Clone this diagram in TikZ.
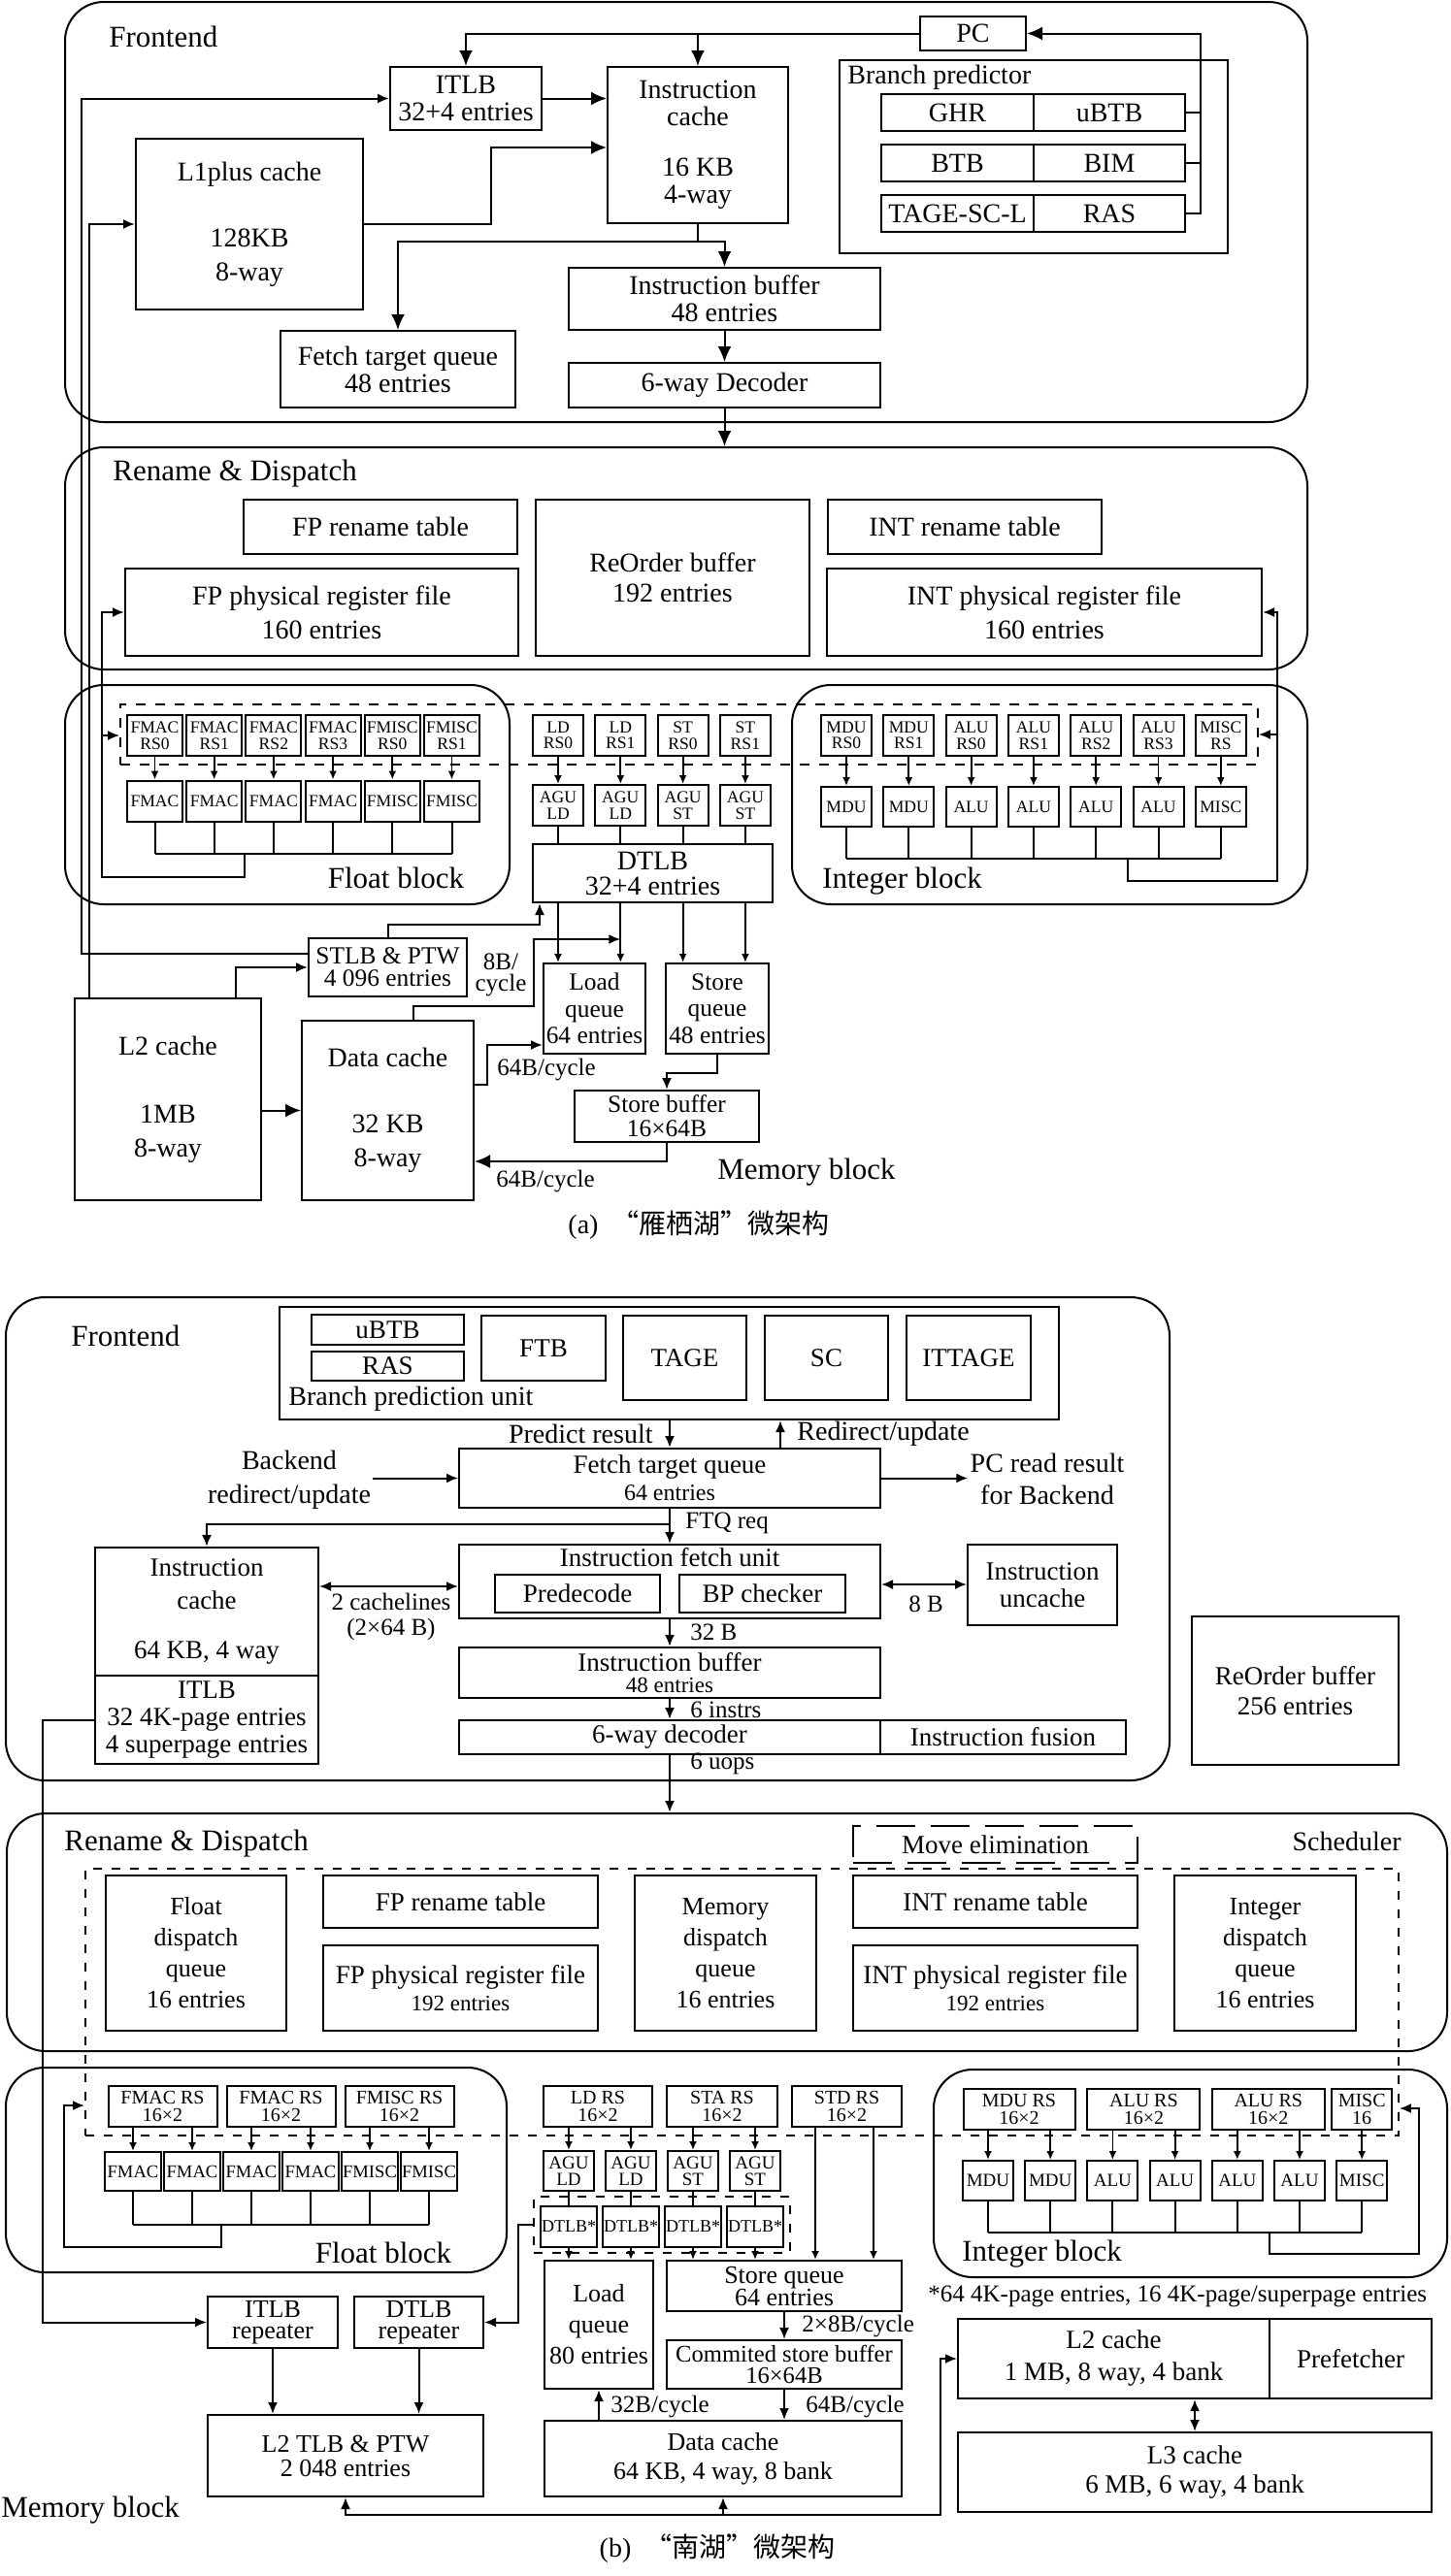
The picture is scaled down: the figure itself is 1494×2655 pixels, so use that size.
\documentclass[tikz,border=0pt]{standalone}
\usepackage{fontspec}
\setmainfont{Liberation Serif}
\newfontfamily\cjk{Noto Sans CJK SC}
\usetikzlibrary{arrows.meta}

% box given by its corners (x1,y1) (x2,y2)
\newcommand{\blk}[6][]{\node[blk,minimum width={(#4-#2)*0.5pt},minimum height={(#5-#3)*0.5pt},#1] (#6) at ({(#2+#4)/2},{(#3+#5)/2})}

\tikzset{
  blk/.style={draw, line width=1pt, inner sep=1pt, align=center},
  grp/.style={rounded corners=20pt},
  dsh/.style={dash pattern=on 5pt off 5pt, line width=0.9pt},
  ttl/.style={font=\fontsize{15.5}{16}\selectfont, inner sep=0pt},
  lbl/.style={font=\fontsize{12.5}{11}\selectfont, inner sep=0pt, align=center},
  lblb/.style={font=\fontsize{14}{14}\selectfont, inner sep=1pt, align=center},
  arrA/.style={line width=1pt, -{Latex[length=8pt,width=7pt]}},
  arrB/.style={line width=1pt, -{Latex[length=6pt,width=5pt]}},
  dblB/.style={line width=1pt, {Latex[length=6pt,width=5pt]}-{Latex[length=6pt,width=5pt]}},
  arrs/.style={line width=0.9pt, -{Latex[length=4.5pt,width=4pt]}},
  lns/.style={line width=1pt},
  unitA/.style={blk, inner sep=0.5pt, minimum width=26pt, minimum height=21pt, font=\fontsize{8.8}{8.3}\selectfont},
  unitB/.style={blk, inner sep=0.5pt, minimum width=26pt, minimum height=20.5pt, font=\fontsize{9.5}{8.5}\selectfont},
}

\begin{document}
\begin{tikzpicture}[x=0.5pt,y=-0.5pt]
\useasboundingbox (0,0) rectangle (1494,2655);
\fill[white] (0,0) rectangle (1494,2655);

%%%%%%%%%%%%%%%% (a) %%%%%%%%%%%%%%%%
\begin{scope}[font=\fontsize{14}{14}\selectfont]
% Frontend
\blk[grp]{67}{2}{1347}{435}{frontA} {};
\node[ttl,anchor=west] at (112,38) {Frontend};
\blk{948}{17}{1057}{52}{pcA} {PC};
\blk{402}{69}{558}{134}{itlbA} {ITLB\\32+4 entries};
\blk{626}{69}{812}{230}{icacheA} {Instruction\\cache\\[12pt]16 KB\\4-way};
\blk{140}{143}{374}{319}{l1plusA} {L1plus cache\\[20pt]128KB\\[3.5pt]8-way};
\blk[line width=0.8pt]{865}{62}{1265}{261}{bpA} {};
\node[anchor=west,inner sep=0pt] at (873,80) {Branch predictor};
\blk{908}{97}{1065}{135}{ghrA} {GHR};
\blk{1065}{97}{1221}{135}{ubtbA} {uBTB};
\blk{908}{149}{1065}{187}{btbA} {BTB};
\blk{1065}{149}{1221}{187}{bimA} {BIM};
\blk{908}{201}{1065}{239}{tageA} {TAGE-SC-L};
\blk{1065}{201}{1221}{239}{rasA} {RAS};
\blk{289}{341}{531}{420}{ftqA} {Fetch target queue\\48 entries};
\blk{586}{276}{907}{340}{ibufA} {Instruction buffer\\48 entries};
\blk{586}{374}{907}{420}{decA} {6-way Decoder};

% Rename & Dispatch
\blk[grp]{67}{461}{1347}{690}{renameA} {};
\node[ttl,anchor=west] at (116,488) {Rename \& Dispatch};
\blk{251}{515}{533}{571}{fprtA} {FP rename table};
\blk{129}{586}{534}{676}{fprfA} {FP physical register file\\[3.5pt]160 entries};
\blk{552}{515}{834}{676}{robA} {ReOrder buffer\\[1.5pt]192 entries};
\blk{853}{515}{1135}{571}{intrtA} {INT rename table};
\blk{852}{586}{1300}{676}{intrfA} {INT physical register file\\[3.5pt]160 entries};

% blocks
\blk[grp]{67}{706}{525}{932}{floatA} {};
\node[ttl] at (408,905) {Float block};
\blk[grp]{816}{706}{1347}{932}{intA} {};
\node[ttl,anchor=west] at (847,908) {Integer block};
\blk[dsh]{124}{726}{1296}{788}{rsrowA} {};
\blk{549}{870}{796}{930}{dtlbA} {DTLB\\[-1pt]32+4 entries};

\foreach \i/\a/\b/\u in {0/FMAC/RS0/FMAC,1/FMAC/RS1/FMAC,2/FMAC/RS2/FMAC,3/FMAC/RS3/FMAC,4/FMISC/RS0/FMISC,5/FMISC/RS1/FMISC}{
  \node[unitA, minimum width=28.5pt] (frsA\i) at ({159.5+61.2*\i},758) {\a\\\b};
  \node[unitA, minimum width=28.5pt] (ffuA\i) at ({159.5+61.2*\i},825.5) {\u};
  \draw[arrs] (frsA\i) -- (ffuA\i);
  \draw[lns] (ffuA\i) -- (ffuA\i |- 0,880);
}
\draw[lns] (ffuA0 |- 0,880) -- (ffuA5 |- 0,880);
\draw[arrB] (252,880) |- (105,904) |- (fprfA.west);
\draw[arrB] (105,758) -- (rsrowA.west |- 0,758);

\foreach \i/\a/\b in {0/LD/RS0,1/LD/RS1,2/ST/RS0,3/ST/RS1}{
  \node[unitA] (mrsA\i) at ({575+64.3*\i},758) {\a\\\b};
  \node[unitA] (aguA\i) at ({575+64.3*\i},830) {AGU\\\a};
  \draw[arrs] (mrsA\i) -- (aguA\i);
  \draw[lns] (aguA\i) -- (aguA\i |- dtlbA.north);
}

\foreach \i/\a/\b/\u in {0/MDU/RS0/MDU,1/MDU/RS1/MDU,2/ALU/RS0/ALU,3/ALU/RS1/ALU,4/ALU/RS2/ALU,5/ALU/RS3/ALU,6/MISC/RS/MISC}{
  \node[unitA] (irsA\i) at ({872+64.3*\i},758) {\a\\\b};
  \node[unitA, minimum height=20.5pt] (ifuA\i) at ({872+64.3*\i},831.5) {\u};
  \draw[arrs] (irsA\i) -- (ifuA\i);
  \draw[lns] (ifuA\i) -- (ifuA\i |- 0,885);
}
\draw[lns] (ifuA0 |- 0,885) -- (ifuA6 |- 0,885);
\draw[arrB] (1162,885) |- (1316,908) |- (intrfA.east);
\draw[arrB] (1316,757) -- (rsrowA.east |- 0,757);

% Memory
\blk[font=\fontsize{12.7}{13.7}\selectfont]{318}{967}{481}{1027}{stlbA} {STLB \& PTW\\[-2.2pt]4 096 entries};
\blk{77}{1029}{269}{1237}{l2A} {L2 cache\\[21pt]1MB\\[3.5pt]8-way};
\blk{311}{1052}{488}{1237}{dcacheA} {Data cache\\[20pt]32 KB\\[3.5pt]8-way};
\blk[font=\fontsize{12.7}{13.7}\selectfont]{560}{993}{665}{1086}{lqA} {Load\\queue\\64 entries};
\blk[font=\fontsize{12.7}{13.7}\selectfont]{686}{993}{792}{1086}{sqA} {Store\\queue\\48 entries};
\blk[font=\fontsize{12.7}{13.7}\selectfont]{592}{1124}{782}{1177}{sbA} {Store buffer\\[-1.2pt]16×64B};
\node[ttl] at (831,1208) {Memory block};

% connections
\draw[arrA] (pcA.west) -| (itlbA.north);
\draw[arrA] (pcA.west -| icacheA.north) -- (icacheA.north);
\draw[arrA] (rasA.east) -- ++(15,0) |- (pcA.east);
\draw[line width=1pt] (ubtbA.east) -- ++(15,0);
\draw[line width=1pt] (bimA.east) -- ++(15,0);
\draw[arrA] (itlbA.east) -- (itlbA.east -| icacheA.west);
\draw[arrB] (stlbA.west |- 0,983) -- (84,983) |- (itlbA.west);
\draw[arrB] (l2A.north -| 92,0) |- (l1plusA.west);
\draw[arrA] (l1plusA.east) -| (506,152) -- (icacheA.west |- 0,152);
\draw[arrA] (icacheA.south) -- ++(0,18) -| (ftqA.north);
\draw[arrA] (icacheA.south) -- ++(0,18) -| (ibufA.north);
\draw[arrA] (ibufA) -- (decA);
\draw[arrA] (decA) -- (decA |- renameA.north);

\draw[arrB] (stlbA.north) |- (556,953) -- (dtlbA.south -| 556,0);
\draw[arrB] (dcacheA.north -| 426,0) |- (550,1037) |- (aguA1 |- 0,968);
\node[lbl] at (516,1005) {8B/\\cycle};
\foreach \i/\q in {0/lqA,1/lqA,2/sqA,3/sqA}
  \draw[arrs] (aguA\i |- dtlbA.south) -- (aguA\i |- \q.north);
\draw[arrB] (l2A.north -| 243,0) |- (stlbA.west);
\draw[arrA] (l2A.east |- dcacheA.west) -- (dcacheA.west);
\draw[arrB] (dcacheA.east |- 0,1118) -| (502,1077) -- (lqA.west |- 0,1077);
\node[lbl,anchor=west] at (512,1103) {64B/cycle};
\draw[arrB] (sqA.south) -- ++(0,19) -| (sbA.north);
\draw[arrA] (sbA.south) |- (dcacheA.east |- 0,1197);
\node[lbl,anchor=west] at (511,1218) {64B/cycle};

\node (capA) at (720,1263) {(a)\enspace{\cjk “雁栖湖”微架构}};
\end{scope}

%%%%%%%%%%%%%%%% (b) %%%%%%%%%%%%%%%%
\begin{scope}[font=\fontsize{13.5}{14}\selectfont]
% Frontend
\blk[grp]{6}{1337}{1205}{1835}{frontB} {};
\node[ttl,anchor=west] at (73,1377) {Frontend};
\blk{288}{1347}{1091}{1463}{bpuB} {};
\node[lblb,anchor=west,inner sep=0pt] at (297,1442) {Branch prediction unit};
\blk{321}{1355}{478}{1386}{ubtbB} {uBTB};
\blk{321}{1393}{478}{1423}{rasB} {RAS};
\blk{496}{1356}{624}{1423}{ftbB} {FTB};
\blk{642}{1356}{769}{1443}{tageB} {TAGE};
\blk{788}{1356}{915}{1443}{scB} {SC};
\blk{934}{1356}{1062}{1443}{ittageB} {ITTAGE};
\blk{473}{1493}{907}{1554}{ftqB} {Fetch target queue\\{\fontsize{12}{12}\selectfont 64 entries}};
\blk{98}{1595}{328}{1727}{icacheB} {Instruction\\[3pt]cache\\[11.5pt]64 KB, 4 way};
\blk{98}{1727}{328}{1818}{itlbB} {ITLB\\32 4K-page entries\\4 superpage entries};
\blk[label={[anchor=north,inner sep=2pt]north:Instruction fetch unit}]{473}{1592}{907}{1668}{ifuB} {};
\blk{510}{1623}{680}{1662}{predecB} {Predecode};
\blk{700}{1623}{871}{1662}{bpchkB} {BP checker};
\blk{997}{1592}{1151}{1675}{uncacheB} {Instruction\\uncache};
\blk{473}{1698}{907}{1750}{ibufB} {Instruction buffer\\[-3pt]{\fontsize{11.5}{11.5}\selectfont 48 entries}};
\blk{473}{1773}{907}{1808}{decB} {6-way decoder};
\blk{907}{1773}{1160}{1808}{fusionB} {Instruction fusion};
\blk{1228}{1666}{1441}{1819}{robB} {ReOrder buffer\\[1.5pt]256 entries};

\draw[arrB] (ftqB.north |- bpuB.south) -- (ftqB.north);
\node[lblb,anchor=east] at (675,1478) {Predict result};
\draw[arrB] (ftqB.north -| 804,0) -- (bpuB.south -| 804,0);
\node[lblb,anchor=west] at (819,1478) {Redirect/update};
\node[lblb] (bkB) at (298,1525) {Backend\\[3.5pt]redirect/update};
\draw[arrB] (bkB.east |- ftqB.west) -- (ftqB.west);
\node[lblb] (pcrB) at (1079,1524) {PC read result\\[2.5pt]for Backend};
\draw[arrB] (ftqB.east) -- (pcrB.west |- ftqB.east);
\draw[arrB] (ftqB) -- (ifuB);
\draw[arrB] (ftqB.south) -- ++(0,16) -| (icacheB.north);
\node[lbl,anchor=west] at (706,1570) {FTQ req};
\draw[dblB] (icacheB.east |- 0,1635) -- (ifuB.west |- 0,1635);
\node[lbl] at (403,1666) {2 cachelines\\[2pt](2×64 B)};
\draw[dblB] (ifuB.east |- 0,1633) -- (uncacheB.west |- 0,1633);
\node[lbl] at (954,1653) {8 B};
\draw[arrB] (ifuB) -- (ibufB);
\node[lbl,anchor=west] at (711,1682) {32 B};
\draw[arrB] (ibufB) -- (decB);
\node[lbl,anchor=west] at (711,1762) {6 instrs};

% Rename & Dispatch
\blk[grp]{7}{1869}{1491}{2114}{renameB} {};
\node[ttl,anchor=west] at (66,1900) {Rename \& Dispatch};
\node[lblb,anchor=east] at (1446,1898) {Scheduler};
\draw[arrB] (decB) -- (decB |- renameB.north);
\node[lbl,anchor=west] at (711,1818) {6 uops};
\blk[dash pattern=on 20pt off 8pt]{879}{1882}{1172}{1920}{moveB} {Move elimination};
\blk[dsh, dash pattern=on 4.5pt off 5pt]{88}{1926}{1441}{2201}{schedB} {};
\blk[font=\fontsize{13}{16}\selectfont]{109}{1933}{295}{2093}{fdqB} {Float\\dispatch\\queue\\16 entries};
\blk{333}{1933}{616}{1987}{fprtB} {FP rename table};
\blk{333}{2005}{616}{2093}{fprfB} {FP physical register file\\{\fontsize{11.5}{11.5}\selectfont 192 entries}};
\blk[font=\fontsize{13}{16}\selectfont]{654}{1933}{841}{2093}{mdqB} {Memory\\dispatch\\queue\\16 entries};
\blk{879}{1933}{1172}{1987}{intrtB} {INT rename table};
\blk{879}{2005}{1172}{2093}{intrfB} {INT physical register file\\{\fontsize{11.5}{11.5}\selectfont 192 entries}};
\blk[font=\fontsize{13}{16}\selectfont]{1210}{1933}{1397}{2093}{idqB} {Integer\\dispatch\\queue\\16 entries};

% Float block
\blk[grp]{6}{2131}{522}{2342}{floatB} {};
\node[ttl] at (395,2322) {Float block};
\foreach \k/\a in {0/FMAC RS,1/FMAC RS,2/FMISC RS}
  \node[unitB, minimum width=56pt, minimum height=21pt, font=\fontsize{10}{9}\selectfont] (frsB\k) at ({167.5+122*\k},2171) {\a\\16×2};
\foreach \j/\u in {0/FMAC,1/FMAC,2/FMAC,3/FMAC,4/FMISC,5/FMISC}{
  \pgfmathtruncatemacro\k{\j/2}
  \node[unitB, minimum width=29pt, minimum height=20pt, font=\fontsize{9.3}{9}\selectfont] (ffuB\j) at ({137+61*\j},2238) {\u};
  \draw[arrs] (frsB\k.south -| ffuB\j) -- (ffuB\j);
  \draw[lns] (ffuB\j) -- (ffuB\j |- 0,2293);
}
\draw[lns] (ffuB0 |- 0,2293) -- (ffuB5 |- 0,2293);
\draw[arrB] (228,2293) |- (66,2316) |- (schedB.west |- 0,2170);

% Integer block
\blk[grp]{962}{2133}{1491}{2347}{intB} {};
\node[ttl,anchor=west] at (991,2323) {Integer block};
\foreach \k/\xx/\w/\a/\b in {0/1050/115/MDU RS/16×2,1/1178.4/116/ALU RS/16×2,2/1306.8/116/ALU RS/16×2,3/1403.2/62/MISC/16}
  \node[unitB, minimum width=\w*0.5pt, minimum height=21pt, font=\fontsize{10}{9}\selectfont] (irsB\k) at (\xx,2174) {\a\\\b};
\foreach \j/\u in {0/MDU,1/MDU,2/ALU,3/ALU,4/ALU,5/ALU,6/MISC}{
  \pgfmathtruncatemacro\k{\j/2}
  \node[unitB] (ifuB\j) at ({1018+64.2*\j},2247.5) {\u};
  \draw[arrs] (irsB\k.south -| ifuB\j) -- (ifuB\j);
  \draw[lns] (ifuB\j) -- (ifuB\j |- 0,2301);
}
\draw[lns] (ifuB0 |- 0,2301) -- (ifuB6 |- 0,2301);
\draw[arrB] (1308,2301) |- (1462,2323) |- (schedB.east |- 0,2173);

% Memory block
\blk[font=\fontsize{10}{9}\selectfont]{560}{2150}{672}{2192}{mrsB0} {LD RS\\16×2};
\blk[font=\fontsize{10}{9}\selectfont]{687}{2150}{801}{2192}{mrsB1} {STA RS\\16×2};
\blk[font=\fontsize{10}{9}\selectfont]{816}{2150}{929}{2192}{stdrsB} {STD RS\\16×2};
\blk[dsh, dash pattern=on 4.5pt off 5pt]{550}{2264}{814}{2322}{dtlbrowB} {};
\blk[font=\fontsize{13}{16}\selectfont]{561}{2330}{673}{2462}{lqB} {Load\\queue\\80 entries};
\blk[font=\fontsize{13}{11.5}\selectfont]{687}{2330}{929}{2382}{sqB} {Store queue\\64 entries};
\blk[font=\fontsize{12.3}{11}\selectfont]{687}{2412}{929}{2462}{csbB} {Commited store buffer\\16×64B};
\blk[font=\fontsize{13}{15}\selectfont]{561}{2495}{929}{2573}{dcB} {Data cache\\64 KB, 4 way, 8 bank};
\foreach \i/\b in {0/LD,1/LD,2/ST,3/ST}{
  \pgfmathtruncatemacro\k{\i/2}
  \node[unitB] (aguB\i) at ({586+64*\i},2237.5) {AGU\\\b};
  \node[unitB, minimum width=29pt, minimum height=21pt, font=\fontsize{9}{9}\selectfont] (dtlbsB\i) at ({586+64*\i},2295) {DTLB*};
  \draw[arrs] (mrsB\k.south -| aguB\i) -- (aguB\i);
  \draw[lns] (aguB\i) -- (dtlbsB\i);
}
\foreach \i/\q in {0/lqB,1/lqB,2/sqB,3/sqB}
  \draw[arrs] (dtlbsB\i) -- (dtlbsB\i |- \q.north);
\foreach \xx in {840,900}
  \draw[arrs] (stdrsB.south -| \xx,0) -- (sqB.north -| \xx,0);
\draw[arrB] (sqB) -- (csbB);
\node[lbl,anchor=west] at (826,2397) {2×8B/cycle};
\draw[arrB] (csbB) -- (csbB |- dcB.north);
\node[lbl,anchor=west] at (830,2480) {64B/cycle};
\draw[arrB] (lqB |- dcB.north) -- (lqB.south);
\node[lbl,anchor=west] at (629,2480) {32B/cycle};

\blk[font=\fontsize{13}{11}\selectfont]{214}{2367}{348}{2420}{itlbrB} {ITLB\\repeater};
\blk[font=\fontsize{13}{11}\selectfont]{365}{2367}{498}{2420}{dtlbrB} {DTLB\\repeater};
\blk[font=\fontsize{13}{12.5}\selectfont]{214}{2489}{498}{2573}{l2tlbB} {L2 TLB \& PTW\\2 048 entries};
\draw[arrB] (itlbB.west) -- ++(-53,0) |- (itlbrB.west);
\draw[arrB] (dtlbrowB.west) -- ++(-15,0) |- (dtlbrB.east);
\draw[arrB] (itlbrB) -- (itlbrB |- l2tlbB.north);
\draw[arrB] (dtlbrB) -- (dtlbrB |- l2tlbB.north);

\node[lbl,anchor=west] at (956,2367) {*64 4K-page entries, 16 4K-page/superpage entries};
\blk[font=\fontsize{13.5}{16.5}\selectfont]{987}{2390}{1308}{2472}{l2B} {L2 cache\\1 MB, 8 way, 4 bank};
\blk{1308}{2390}{1475}{2472}{prefB} {Prefetcher};
\blk[font=\fontsize{13.5}{15}\selectfont]{987}{2507}{1475}{2589}{l3B} {L3 cache\\6 MB, 6 way, 4 bank};
\draw[dblB] (l3B |- l2B.south) -- (l3B.north);
\draw[dblB] (l2tlbB.south) |- (969,2592) |- (l2B.west);
\draw[arrB] (dcB.south |- 0,2592) -- (dcB.south);
\node[ttl,anchor=west] at (1,2587) {Memory block};

\node[font=\fontsize{14}{14}\selectfont] (capB) at (739,2627) {(b)\enspace{\cjk “南湖”微架构}};
\end{scope}
\end{tikzpicture}
\end{document}
